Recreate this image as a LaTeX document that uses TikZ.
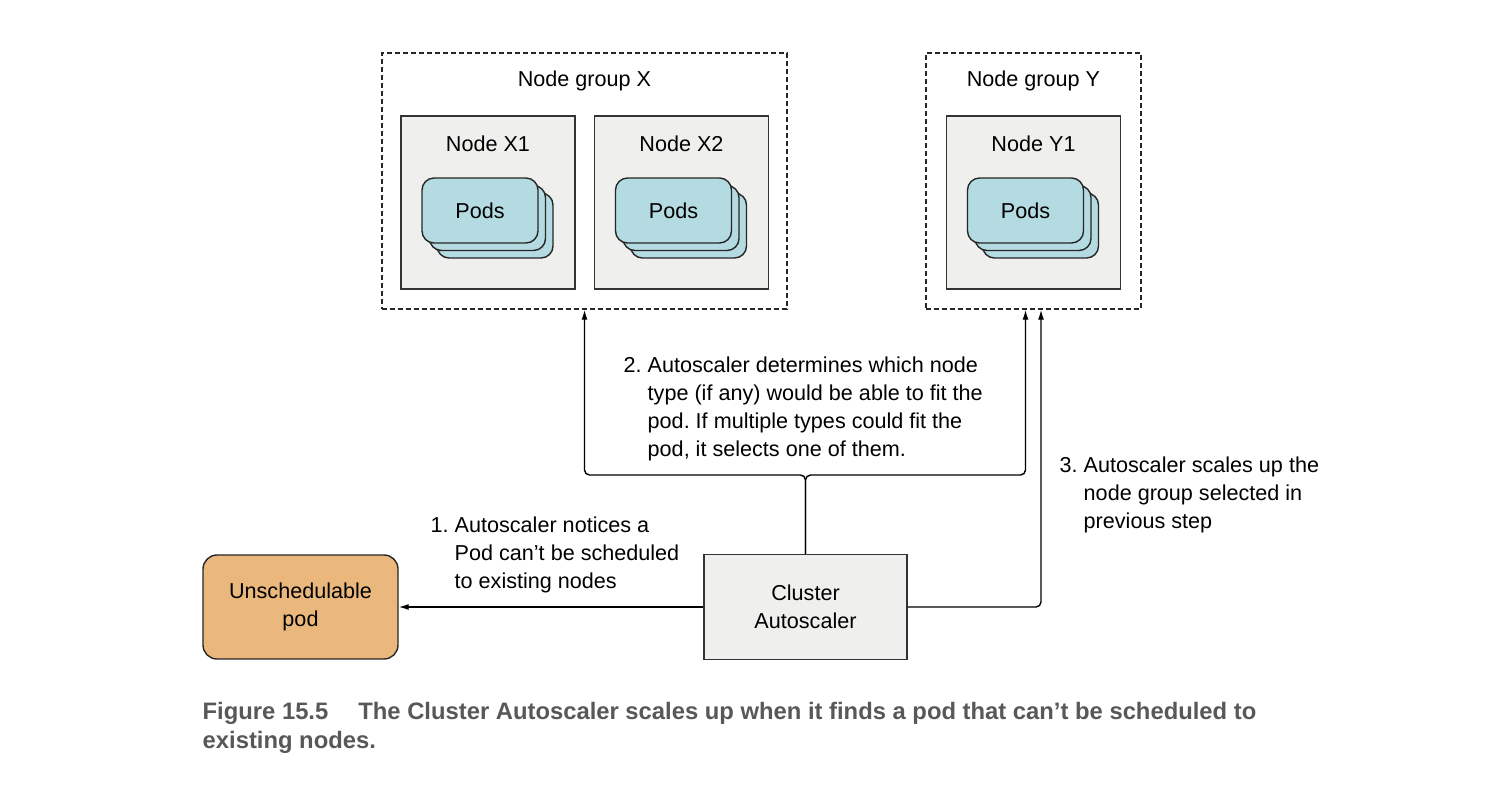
\documentclass[tikz,border=0pt]{standalone}
\usepackage{fontspec}
\setmainfont{Liberation Sans}
\usepackage{xcolor}
\usepackage{tikz}
\usetikzlibrary{arrows.meta,shadows}
\definecolor{nodegray}{RGB}{239,239,237}
\definecolor{podblue}{RGB}{181,219,226}
\definecolor{podorange}{RGB}{234,184,124}
\definecolor{capgray}{RGB}{88,88,88}
\frenchspacing

\tikzset{
  grp/.style={draw=black!85, dash pattern=on 2.5pt off 1.5pt, minimum height=128pt},
  nodebox/.style={draw=black!80, fill=nodegray, minimum width=87pt, minimum height=86.5pt},
  podcard/.style={draw=black!85, fill=podblue, rounded corners=6pt,
    minimum width=58pt, minimum height=32.5pt,
    copy shadow={shadow xshift=7.5pt, shadow yshift=-7.5pt, fill=podblue, draw=black!85},
    copy shadow={shadow xshift=3.75pt, shadow yshift=-3.75pt, fill=podblue, draw=black!85}},
  note/.style={inner sep=0pt, anchor=west},
}

\begin{document}
\begin{tikzpicture}[x=0.5pt, y=-0.5pt, line width=0.7pt,
  font=\fontsize{10.8pt}{14pt}\selectfont, >={Latex[length=5pt,width=3pt]}]
  \useasboundingbox (0,0) rectangle (1486,794);

  % node groups
  \node[grp, minimum width=202.5pt] (grpX) at (584.5,181) {};
  \node[grp, minimum width=107.5pt] (grpY) at (1033.5,181) {};
  \node (grpXtitle) at (584.5,81) {Node group X};
  \node (grpYtitle) at (1033.5,81) {Node group Y};

  % nodes with their pods
  \node[nodebox] (x1) at (488,202.5) {};
  \node[nodebox] (x2) at (681.5,202.5) {};
  \node[nodebox] (y1) at (1033.5,202.5) {};
  \node (x1title) at (488,144) {Node X1};
  \node (x2title) at (681.5,144) {Node X2};
  \node (y1title) at (1033.5,144) {Node Y1};
  \node[podcard] (x1pods) at ([xshift=-4pt,yshift=-4pt]x1.center) {Pods};
  \node[podcard] (x2pods) at ([xshift=-4pt,yshift=-4pt]x2.center) {Pods};
  \node[podcard] (y1pods) at ([xshift=-4pt,yshift=-4pt]y1.center) {Pods};

  % autoscaler and pod
  \node[draw=black!80, fill=nodegray, minimum width=101.5pt, minimum height=52.5pt, align=center]
    (ca) at (805.5,607) {Cluster\\Autoscaler};
  \node[draw=black!85, fill=podorange, rounded corners=7pt, minimum width=97.5pt,
    minimum height=52pt, align=center] (pod) at (300.5,607) {Unschedulable\\pod};

  % connectors
  \coordinate (split) at (805.5,475);
  \draw[->] (ca.west) -- (pod.east);
  \draw[->, rounded corners=2.5pt] (ca.north) -- (split) -| (grpX.south);
  \draw[->, rounded corners=2.5pt] (ca.north) -- (split) -| ([xshift=-4pt]grpY.south);
  \draw[->, rounded corners=2.5pt] (ca.east) -| ([xshift=3.75pt]grpY.south);

  % step notes
  \node[note] (note1) at (430,555) {\begin{tabular}{@{}l@{\ }l@{}}1. & Autoscaler notices a\\
    & Pod can’t be scheduled\\ & to existing nodes\end{tabular}};
  \node[note] (note2) at (623,409) {\begin{tabular}{@{}l@{\ }l@{}}2. & Autoscaler determines which node\\
    & type (if any) would be able to fit the\\ & pod. If multiple types could fit the\\
    & pod, it selects one of them.\end{tabular}};
  \node[note] (note3) at (1059,495) {\begin{tabular}{@{}l@{\ }l@{}}3. & Autoscaler scales up the\\
    & node group selected in\\ & previous step\end{tabular}};

  % caption
  \node[inner sep=0pt, anchor=north west, align=left, text=capgray,
    font=\bfseries\fontsize{11.9pt}{14.5pt}\selectfont] (caption) at (202,702)
    {Figure 15.5\hspace{15pt}The Cluster Autoscaler scales up when it finds a pod that can’t be scheduled to\\
    existing nodes.};
\end{tikzpicture}
\end{document}
